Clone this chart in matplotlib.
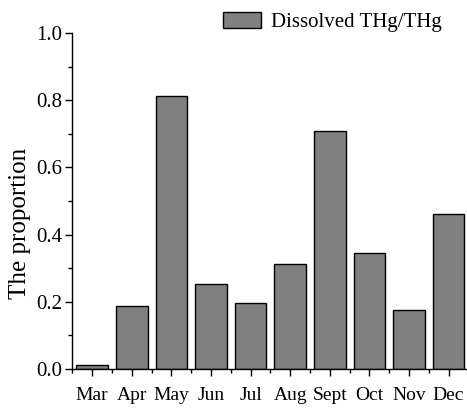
import matplotlib
matplotlib.use("Agg")
import matplotlib.pyplot as plt
from matplotlib.ticker import MultipleLocator, FixedLocator

# months and dissolved THg / THg ratio
months = ['Mar', 'Apr', 'May', 'Jun', 'Jul', 'Aug', 'Sept', 'Oct', 'Nov', 'Dec']
ratio = [0.012, 0.188, 0.812, 0.252, 0.196, 0.312, 0.710, 0.346, 0.174, 0.460]
legend_label = 'Dissolved THg/THg'

plt.rcParams['font.family'] = ['Liberation Serif', 'DejaVu Serif']

fig = plt.figure(figsize=(4.67, 4.09), dpi=100)
ax = fig.add_axes([0.155, 0.098, 0.848, 0.821])

x = list(range(len(months)))
ax.bar(x, ratio, width=0.8, color='#808080', edgecolor='black', linewidth=1.0, label=legend_label)

ax.set_xlim(-0.5, len(months) - 0.5)
ax.set_ylim(0, 1.0)
ax.set_xticks(x)
ax.set_xticklabels(months, fontsize=14)
ax.xaxis.set_minor_locator(FixedLocator([i - 0.5 for i in range(len(months) + 1)]))
ax.yaxis.set_major_locator(MultipleLocator(0.2))
ax.yaxis.set_minor_locator(MultipleLocator(0.1))
ax.set_yticklabels(['%.1f' % v for v in ax.get_yticks()], fontsize=15)
ax.tick_params(which='major', direction='out', length=5, width=1, pad=2)
ax.tick_params(which='minor', direction='out', length=3, width=1)
ax.tick_params(axis='x', which='major', pad=8)

for s in ['top', 'right']:
    ax.spines[s].set_visible(False)
for s in ['left', 'bottom']:
    ax.spines[s].set_linewidth(1.0)

ax.set_ylabel('The proportion', fontsize=18)
ax.yaxis.set_label_coords(-0.105, 0.434)

ax.legend(loc='upper left', bbox_to_anchor=(0.447, 1.007), bbox_transform=fig.transFigure,
          frameon=False, fontsize=15, handlelength=1.8, handleheight=0.8,
          handletextpad=0.5, borderaxespad=0.3)

fig.savefig('out.png', dpi=100)
